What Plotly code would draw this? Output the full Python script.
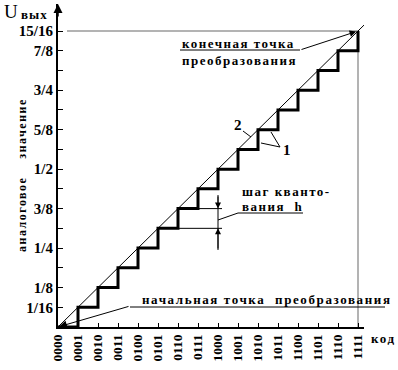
import plotly.graph_objects as go

# ---- data ----
codes = ["0000", "0001", "0010", "0011", "0100", "0101", "0110", "0111",
         "1000", "1001", "1010", "1011", "1100", "1101", "1110", "1111"]
levels = [0, 0.0625, 0.125, 0.1875, 0.25, 0.3125, 0.375, 0.4375,
          0.5, 0.5625, 0.625, 0.6875, 0.75, 0.8125, 0.875, 0.9375]
ideal_x = [0, 15.3]
ideal_y = [0, 0.95625]
y_tickvals = [0.0625, 0.125, 0.1875, 0.25, 0.3125, 0.375, 0.4375, 0.5,
              0.5625, 0.625, 0.6875, 0.75, 0.8125, 0.875, 0.9375]
y_ticktext = ["1/16", "1/8", "", "1/4", "", "3/8", "", "1/2",
              "", "5/8", "", "3/4", "", "7/8", "15/16"]

code_idx = list(range(len(codes)))

SERIF = "Liberation Serif, Times New Roman, serif"

# plot-area geometry (pixels) used for converting label positions
L, T, W, H = 58, 4, 306, 323
XR = [0, 15.3]
YR = [0, 1.023]


def dx(px):
    return XR[0] + (px - L) / W * (XR[1] - XR[0])


def dy(py):
    return YR[0] + (T + H - py) / H * (YR[1] - YR[0])


def px_(px):
    return (px - L) / W


def py_(py):
    return (T + H - py) / H


def ls(t, sp=1.5):
    return f'<span style="letter-spacing:{sp}px">{t}</span>'


fig = go.Figure()

# ideal characteristic (line 2)
fig.add_trace(go.Scatter(x=ideal_x, y=ideal_y, mode="lines",
                         line=dict(color="black", width=1), hoverinfo="skip"))
# real staircase characteristic (line 1)
fig.add_trace(go.Scatter(x=code_idx, y=levels, mode="lines", line_shape="hv",
                         line=dict(color="black", width=3), hoverinfo="skip"))

shapes = []
gray = "#9a9a9a"
# gray guide lines to the end point
shapes.append(dict(type="line", xref="x", yref="y", x0=0.45, x1=code_idx[-1],
                   y0=levels[-1], y1=levels[-1], line=dict(color=gray, width=1.5), layer="below"))
shapes.append(dict(type="line", xref="x", yref="y", x0=code_idx[-1], x1=code_idx[-1],
                   y0=0, y1=levels[-1], line=dict(color=gray, width=1.5), layer="below"))

thin = dict(color="black", width=1)
# underline of "конечная точка"
shapes.append(dict(type="line", xref="x", yref="y", x0=dx(180), x1=dx(300),
                   y0=dy(50), y1=dy(50), line=thin))
# leader of "2"
shapes.append(dict(type="line", xref="x", yref="y", x0=dx(243), x1=dx(251),
                   y0=dy(131), y1=dy(137), line=thin))
# leaders of "1"
shapes.append(dict(type="line", xref="x", yref="y", x0=dx(280), x1=dx(271),
                   y0=dy(147), y1=dy(132), line=thin))
shapes.append(dict(type="line", xref="x", yref="y", x0=dx(280), x1=dx(261),
                   y0=dy(147), y1=dy(143), line=thin))
# quantisation-step dimension
shapes.append(dict(type="line", xref="x", yref="y", x0=code_idx[7], x1=dx(222),
                   y0=levels[6], y1=levels[6], line=thin))
shapes.append(dict(type="line", xref="x", yref="y", x0=code_idx[6], x1=dx(222),
                   y0=levels[5], y1=levels[5], line=thin))
shapes.append(dict(type="line", xref="x", yref="y", x0=dx(218), x1=dx(218),
                   y0=dy(195), y1=dy(250), line=thin))
shapes.append(dict(type="line", xref="x", yref="y", x0=dx(218), x1=dx(238),
                   y0=dy(220), y1=dy(213), line=thin))
shapes.append(dict(type="line", xref="x", yref="y", x0=dx(238), x1=dx(303),
                   y0=dy(213), y1=dy(213), line=thin))
# underline of "начальная точка преобразования"
shapes.append(dict(type="line", xref="paper", yref="paper", x0=px_(130), x1=px_(385),
                   y0=py_(307), y1=py_(307), line=thin))

fig.update_layout(shapes=shapes)

bold = dict(family=SERIF, size=13, color="black", weight="bold")
ann = []
# y-axis arrow
ann.append(dict(x=0, y=1, xref="paper", yref="paper", ax=0, ay=14, axref="pixel",
                ayref="pixel", showarrow=True, arrowhead=2, arrowsize=1.2,
                arrowwidth=1.5, arrowcolor="black", text=""))
# end point label + arrow
ann.append(dict(x=dx(180), y=dy(43), xref="x", yref="y", xanchor="left", yanchor="middle",
                text=ls("конечная точка"), showarrow=False, font=bold))
ann.append(dict(x=dx(180), y=dy(60), xref="x", yref="y", xanchor="left", yanchor="middle",
                text=ls("преобразования"), showarrow=False, font=bold))
ann.append(dict(x=code_idx[-1], y=levels[-1], xref="x", yref="y", ax=dx(300), ay=dy(50),
                axref="x", ayref="y", showarrow=True, arrowhead=2, arrowsize=1.3,
                arrowwidth=1, arrowcolor="black", standoff=2, text=""))
# start point label + arrow
ann.append(dict(x=dx(140), y=dy(299), xref="x", yref="y", xanchor="left", yanchor="middle",
                text=ls("начальная точка \u00a0преобразования", 1.6), showarrow=False, font=bold))
ann.append(dict(x=code_idx[0], y=levels[0], xref="x", yref="y", ax=dx(130), ay=dy(306),
                axref="x", ayref="y", showarrow=True, arrowhead=2, arrowsize=1.6,
                arrowwidth=1, arrowcolor="black", standoff=1, text=""))
# curve numbers
ann.append(dict(x=dx(238), y=dy(125), xref="x", yref="y", text="2", showarrow=False,
                xanchor="center", yanchor="middle",
                font=dict(family=SERIF, size=15, color="black", weight="bold")))
ann.append(dict(x=dx(287), y=dy(150), xref="x", yref="y", text="1", showarrow=False,
                xanchor="center", yanchor="middle",
                font=dict(family=SERIF, size=15, color="black", weight="bold")))
# quantisation step
ann.append(dict(x=dx(240), y=dy(191), xref="x", yref="y", xanchor="left", yanchor="middle",
                text=ls("шаг кванто-"), showarrow=False, font=bold))
ann.append(dict(x=dx(240), y=dy(206), xref="x", yref="y", xanchor="left", yanchor="middle",
                text=ls("вания \u00a0h"), showarrow=False, font=bold))
ann.append(dict(x=dx(218), y=levels[6], xref="x", yref="y", ax=dx(218), ay=dy(195),
                axref="x", ayref="y", showarrow=True, arrowhead=2, arrowsize=1.2,
                arrowwidth=1, arrowcolor="black", text=""))
ann.append(dict(x=dx(218), y=levels[5], xref="x", yref="y", ax=dx(218), ay=dy(250),
                axref="x", ayref="y", showarrow=True, arrowhead=2, arrowsize=1.2,
                arrowwidth=1, arrowcolor="black", text=""))
# axis names
ann.append(dict(x=px_(383), y=py_(338), xref="paper", yref="paper", text=ls("код"),
                xanchor="center", yanchor="middle", showarrow=False, font=bold))
ann.append(dict(x=px_(11), y=py_(11), xref="paper", yref="paper", text="U",
                xanchor="center", yanchor="middle", showarrow=False,
                font=dict(family=SERIF, size=19, color="black")))
ann.append(dict(x=px_(34), y=py_(14), xref="paper", yref="paper", text=ls("вых", 1),
                xanchor="center", yanchor="middle", showarrow=False, font=bold))
ann.append(dict(x=px_(22), y=py_(175), xref="paper", yref="paper", textangle=-90,
                xanchor="center", yanchor="middle",
                text=ls("аналоговое\u00a0\u00a0\u00a0\u00a0значение", 1.5),
                showarrow=False, font=dict(family=SERIF, size=12, color="black", weight="bold")))

fig.update_layout(
    annotations=ann,
    width=398, height=370, autosize=False,
    margin=dict(l=L, r=398 - L - W, t=T, b=370 - T - H, pad=0, autoexpand=False),
    paper_bgcolor="white", plot_bgcolor="white",
    showlegend=False,
    xaxis=dict(range=XR, tickmode="array", tickvals=code_idx, ticktext=codes,
               tickangle=-90, showline=True, linecolor="black", linewidth=2,
               ticks="inside", ticklen=4, tickcolor="black", tickwidth=1,
               showgrid=False, zeroline=False, automargin=False,
               tickfont=dict(family=SERIF, size=13.5, color="black", weight="bold")),
    yaxis=dict(range=YR, tickmode="array", tickvals=y_tickvals, ticktext=y_ticktext,
               showline=True, linecolor="black", linewidth=2,
               ticks="inside", ticklen=5, tickcolor="black", tickwidth=1,
               showgrid=False, zeroline=False, automargin=False,
               tickfont=dict(family=SERIF, size=15, color="black", weight="bold")),
)

fig.write_html("out.html", config={"displayModeBar": False},
               post_script="document.body.style.margin='0';document.body.style.padding='0';")
